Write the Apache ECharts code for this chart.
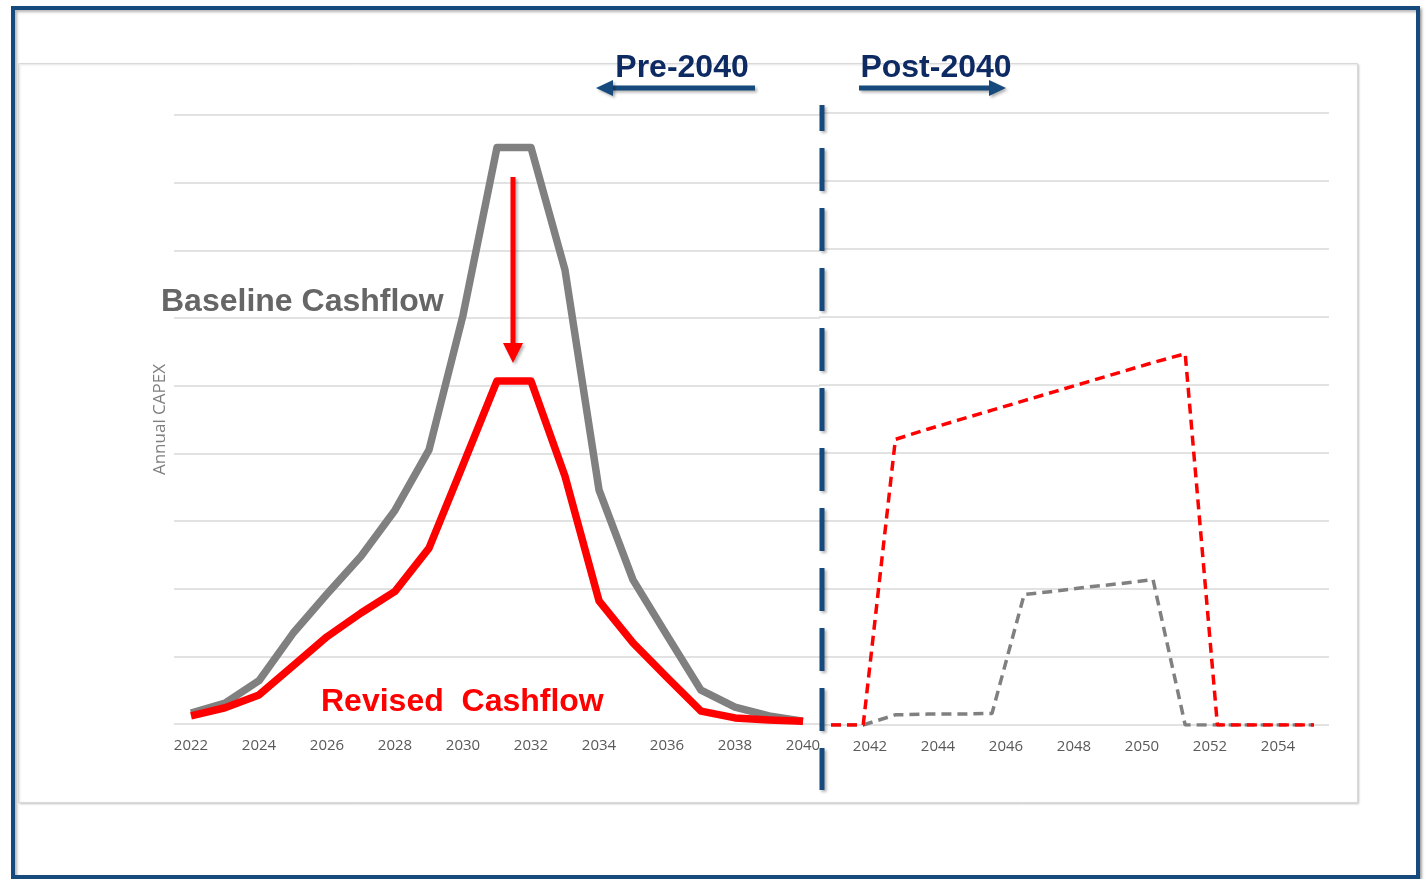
<!DOCTYPE html>
<html>
<head>
<meta charset="utf-8">
<title>Annual CAPEX - Pre / Post 2040</title>
<script src="https://cdn.jsdelivr.net/npm/echarts@6/dist/echarts.min.js"></script>
<style>
    html, body { margin: 0; padding: 0; background: #fff; }
    #chart { width: 1427px; height: 879px; }
</style>
</head>
<body>
<div id="chart"></div>
<script>
// pre-2040 (solid lines)
const preYears = ['2022', '2023', '2024', '2025', '2026', '2027', '2028', '2029', '2030', '2031',
    '2032', '2033', '2034', '2035', '2036', '2037', '2038', '2039', '2040'];
const baselinePre = [0.16, 0.31, 0.64, 1.34, 1.92, 2.48, 3.16, 4.05, 6.04, 8.52,
    8.52, 6.71, 3.46, 2.13, 1.31, 0.50, 0.25, 0.12, 0.04];
const revisedPre = [0.12, 0.24, 0.43, 0.86, 1.29, 1.64, 1.96, 2.60, 3.83, 5.07,
    5.07, 3.66, 1.82, 1.20, 0.69, 0.19, 0.09, 0.06, 0.04];

// post-2040 axis labels
const postLabelYears = ['2041', '2042', '2043', '2044', '2045', '2046', '2047', '2048',
    '2049', '2050', '2051', '2052', '2053', '2054', '2055'];
// post-2040 (dashed lines) - the pasted chart's own points
const postYears = ['2040', '2041', '2042', '2043', '2044', '2045', '2046', '2047',
    '2048', '2049', '2050', '2051', '2052', '2053', '2054', '2055'];
const revisedPost = [0, 0, 4.20, 4.35, 4.49, 4.63, 4.77, 4.91, 5.05, 5.19, 5.33, 5.46, 0, 0, 0, 0];
const baselinePost = [0, 0, 0.15, 0.16, 0.16, 0.17, 1.92, 1.97, 2.03, 2.08, 2.14, 0, 0, 0, 0, 0];

const NAVY = '#174a7c';
const GRID_LINE = '#d9d9d9';
const LABEL_FONT = '"Open Sans", "Liberation Sans", sans-serif';
const BOLD_FONT = '"Liberation Sans", Arial, sans-serif';

const chart = echarts.init(document.getElementById('chart'));

const hiddenAxis = {
    axisLine: { show: false },
    axisTick: { show: false },
    axisLabel: { show: false },
    splitLine: { show: false },
};

const valueAxis = (gridIndex, showSplit) => ({
    type: 'value',
    gridIndex,
    min: 0,
    max: 9,
    interval: 1,
    axisLine: { show: false },
    axisTick: { show: false },
    axisLabel: { show: false },
    splitLine: { show: showSplit, lineStyle: { color: GRID_LINE, width: 1.5 } },
});

const shadow = {
    shadowBlur: 3,
    shadowOffsetX: 2,
    shadowOffsetY: 2,
    shadowColor: 'rgba(0,0,0,0.3)',
};

chart.setOption({
    animation: false,
    backgroundColor: '#fff',
    grid: [
        { left: 174, top: 115, width: 646, height: 609 },
        { left: 819, top: 113, width: 510, height: 612 },
        { left: 831, top: 113, width: 483, height: 612 },
    ],
    xAxis: [
        {
            type: 'category',
            gridIndex: 0,
            data: preYears,
            boundaryGap: true,
            axisLine: { show: false },
            axisTick: { show: false },
            axisLabel: { interval: 1, color: '#595959', fontSize: 15, fontFamily: LABEL_FONT, margin: 14 },
        },
        {
            type: 'category',
            gridIndex: 1,
            data: postLabelYears,
            boundaryGap: true,
            axisLine: { show: false },
            axisTick: { show: false },
            axisLabel: {
                interval: (idx, val) => Number(val) % 2 === 0,
                color: '#595959',
                fontSize: 15,
                fontFamily: LABEL_FONT,
                margin: 14,
            },
        },
        Object.assign({ type: 'category', gridIndex: 2, data: postYears, boundaryGap: false }, hiddenAxis),
    ],
    yAxis: [
        Object.assign(valueAxis(0, true), {
            name: 'Annual CAPEX',
            nameLocation: 'middle',
            nameGap: 5,
            nameTextStyle: { color: '#7f7f7f', fontSize: 17, fontFamily: LABEL_FONT },
        }),
        valueAxis(1, true),
        valueAxis(2, false),
    ],
    series: [
        {
            name: 'Baseline Cashflow',
            type: 'line',
            xAxisIndex: 0,
            yAxisIndex: 0,
            data: baselinePre,
            showSymbol: false,
            lineStyle: { color: '#808080', width: 7.5, join: 'round' },
        },
        {
            name: 'Revised Cashflow',
            type: 'line',
            xAxisIndex: 0,
            yAxisIndex: 0,
            data: revisedPre,
            showSymbol: false,
            lineStyle: { color: '#ff0000', width: 7.5, join: 'round' },
        },
        {
            name: 'Baseline Cashflow (post-2040)',
            type: 'line',
            xAxisIndex: 2,
            yAxisIndex: 2,
            data: baselinePost,
            showSymbol: false,
            lineStyle: { color: '#808080', width: 3.5, type: [10, 6] },
        },
        {
            name: 'Revised Cashflow (post-2040)',
            type: 'line',
            xAxisIndex: 2,
            yAxisIndex: 2,
            data: revisedPost,
            showSymbol: false,
            lineStyle: { color: '#ff0000', width: 3.5, type: [10, 6] },
        },
    ],
    graphic: [
        // outer slide frame
        {
            type: 'rect',
            z: -10,
            shape: { x: 13, y: 8, width: 1405, height: 869 },
            style: Object.assign({ fill: '#fff', stroke: NAVY, lineWidth: 4 }, shadow),
        },
        // chart box
        {
            type: 'rect',
            z: -9,
            shape: { x: 18.5, y: 63.5, width: 1339, height: 739 },
            style: { fill: '#fff', stroke: GRID_LINE, lineWidth: 1, shadowBlur: 2, shadowOffsetX: 1, shadowOffsetY: 1, shadowColor: 'rgba(0,0,0,0.15)' },
        },
        // 2040 divider
        {
            type: 'line',
            z: 100,
            shape: { x1: 822, y1: 105, x2: 822, y2: 790 },
            style: Object.assign({ stroke: NAVY, lineWidth: 5, lineDash: [43, 17], lineDashOffset: 17 }, shadow),
        },
        // Pre-2040
        {
            type: 'text',
            z: 100,
            style: { text: 'Pre-2040', x: 682, y: 68, align: 'center', verticalAlign: 'middle', fill: '#0d2a63', font: 'bold 32px ' + BOLD_FONT },
        },
        {
            type: 'rect',
            z: 100,
            shape: { x: 610, y: 85.5, width: 145, height: 5 },
            style: Object.assign({ fill: NAVY }, shadow),
        },
        {
            type: 'polygon',
            z: 100,
            shape: { points: [[596, 88], [613, 80], [613, 96]] },
            style: Object.assign({ fill: NAVY }, shadow),
        },
        // Post-2040
        {
            type: 'text',
            z: 100,
            style: { text: 'Post-2040', x: 936, y: 68, align: 'center', verticalAlign: 'middle', fill: '#0d2a63', font: 'bold 32px ' + BOLD_FONT },
        },
        {
            type: 'rect',
            z: 100,
            shape: { x: 859, y: 85.5, width: 133, height: 5 },
            style: Object.assign({ fill: NAVY }, shadow),
        },
        {
            type: 'polygon',
            z: 100,
            shape: { points: [[1006, 88], [989, 80], [989, 96]] },
            style: Object.assign({ fill: NAVY }, shadow),
        },
        // series annotations
        {
            type: 'text',
            z: 100,
            style: { text: 'Baseline Cashflow', x: 161, y: 302, align: 'left', verticalAlign: 'middle', fill: '#666666', font: 'bold 32px ' + BOLD_FONT },
        },
        {
            type: 'text',
            z: 100,
            style: { text: 'Revised  Cashflow', x: 321, y: 702, align: 'left', verticalAlign: 'middle', fill: '#ff0000', font: 'bold 32px ' + BOLD_FONT },
        },
        // reduction arrow
        {
            type: 'rect',
            z: 100,
            shape: { x: 510.5, y: 177, width: 5, height: 168 },
            style: Object.assign({ fill: '#ff0000' }, shadow),
        },
        {
            type: 'polygon',
            z: 100,
            shape: { points: [[503, 343], [523, 343], [513, 363]] },
            style: Object.assign({ fill: '#ff0000' }, shadow),
        },
    ],
});
</script>
</body>
</html>
